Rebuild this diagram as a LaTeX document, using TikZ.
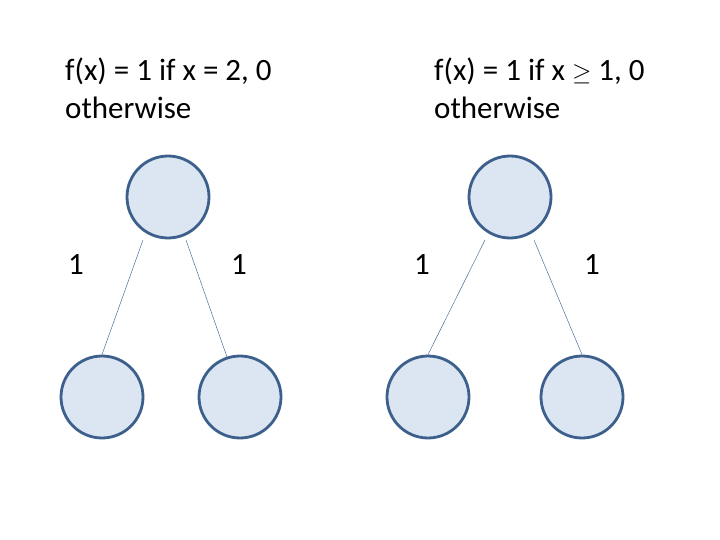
\documentclass[tikz,border=0pt]{standalone}
\usepackage{fontspec}
\setmainfont{Carlito}
\usetikzlibrary{positioning}
\definecolor{nodefill}{HTML}{DCE6F2}
\definecolor{nodeline}{HTML}{3C5F8C}
\definecolor{edgeline}{HTML}{4A6FA0}

\begin{document}
\begin{tikzpicture}[x=1pt, y=-1pt, font=\fontsize{31}{38}\selectfont,
    unit/.style={circle, draw=nodeline, line width=2.8pt, fill=nodefill, minimum size=82pt, inner sep=0pt},
    edge/.style={draw=edgeline, line width=0.5pt},
    caption/.style={anchor=base west, align=left, inner sep=0pt}]
    \useasboundingbox (0,0) rectangle (720,540);
    % left tree
    \node[caption] (capL) at (65,119) {f(x) = 1 if x = 2, 0\\otherwise};
    \node[unit] (tL) at (168,197) {};
    \node[unit] (aL) at (102,397) {};
    \node[unit] (bL) at (240,397) {};
    \coordinate (aLs) at (143,240);
    \coordinate (bLs) at (186,240);
    \draw[edge] (aLs) -- (aL.north);
    \draw[edge] (bLs) -- (bL.108);
    \node[caption] (wL1) at (68,274) {1};
    \node[caption] (wL2) at (231,274) {1};
    % right tree
    \node[caption] (capR) at (434,119) {f(x) = 1 if x $\geq$ 1, 0\\otherwise};
    \node[unit] (tR) at (510,197) {};
    \node[unit] (aR) at (428,397) {};
    \node[unit] (bR) at (582,397) {};
    \coordinate (aRs) at (485,240);
    \coordinate (bRs) at (534,240);
    \draw[edge] (aRs) -- (aR.north);
    \draw[edge] (bRs) -- (bR.north);
    \node[caption] (wR1) at (414,274) {1};
    \node[caption] (wR2) at (584,274) {1};
\end{tikzpicture}
\end{document}
